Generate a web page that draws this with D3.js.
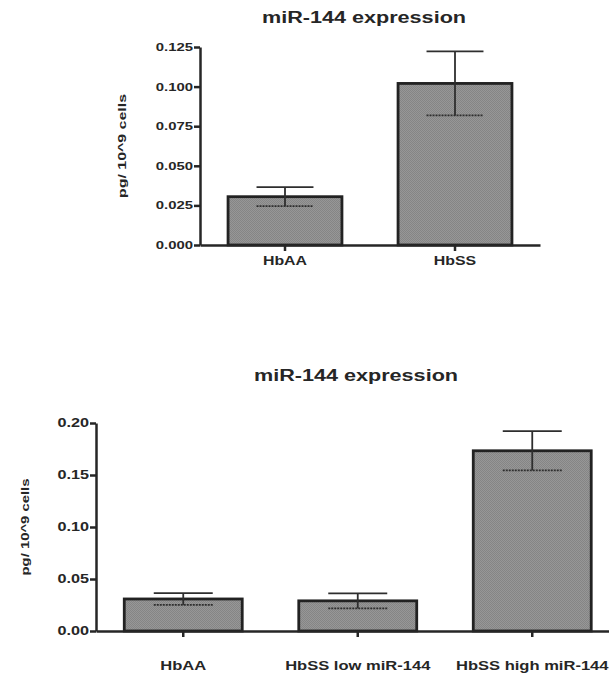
<!DOCTYPE html>
<meta charset="utf-8">
<html>
<style>
	body { margin: 0; background: #fff; }
	text { font-family: Arial, "Liberation Sans", Helvetica, sans-serif; font-weight: bold; fill: #262626; }
	.axis path, .axis line { stroke: #262626; stroke-width: 2.5px; }
	.axis text { fill: #262626; }
	.bar { stroke: #222; stroke-width: 2.8px; }
	.err { stroke: #2e2e2e; stroke-width: 1.8px; fill: none; }
</style>
<body>
	<script src="https://d3js.org/d3.v7.min.js"></script>
	<script type="text/javascript">
		// top panel data
		var topCats = ["HbAA", "HbSS"];
		var topMeans = [0.0305, 0.1020];
		var topSem = [0.0060, 0.0202];
		var topTicks = [0, 0.025, 0.05, 0.075, 0.1, 0.125];

		// bottom panel data
		var botCats = ["HbAA", "HbSS low miR-144", "HbSS high miR-144"];
		var botMeans = [0.0308, 0.0290, 0.1733];
		var botSem = [0.0057, 0.0072, 0.0188];
		var botTicks = [0, 0.05, 0.1, 0.15, 0.2];

		var title = "miR-144 expression";
		var yLabel = "pg/ 10^9 cells";

		var width = 609, height = 675;
		var stretch = 1.35; // glyphs in the picture are wider than Arial

		var svg = d3.select("body").append("svg")
			.attr("width", width)
			.attr("height", height);

		// fine dotted fill like the printed bars
		var pat = svg.append("defs").append("pattern")
			.attr("id", "checker")
			.attr("width", 2).attr("height", 2)
			.attr("patternUnits", "userSpaceOnUse");
		pat.append("rect").attr("width", 2).attr("height", 2).attr("fill", "#979797");
		pat.append("rect").attr("width", 1).attr("height", 1).attr("fill", "#858585");
		pat.append("rect").attr("x", 1).attr("y", 1).attr("width", 1).attr("height", 1).attr("fill", "#858585");

		function widen(sel, k) {
			sel.each(function () {
				var len = this.getComputedTextLength();
				d3.select(this).attr("textLength", len * k).attr("lengthAdjust", "spacingAndGlyphs");
			});
		}

		function panel(opt) {
			var g = svg.append("g");

			var x = d3.scaleBand()
				.domain(opt.cats)
				.range([opt.left, opt.right])
				.paddingInner(opt.pad)
				.paddingOuter(opt.pad / 2);

			var y = d3.scaleLinear()
				.domain([0, opt.max])
				.range([opt.bottom, opt.top]);

			// bars
			g.selectAll(".bar")
				.data(opt.means)
				.enter().append("rect")
				.attr("class", "bar")
				.attr("x", function (d, i) { return x(opt.cats[i]); })
				.attr("width", x.bandwidth())
				.attr("y", function (d) { return y(d); })
				.attr("height", function (d) { return y(0) - y(d); })
				.attr("fill", "url(#checker)");

			// error bars
			var capW = x.bandwidth() * 0.5;
			opt.means.forEach(function (m, i) {
				var cx = x(opt.cats[i]) + x.bandwidth() / 2;
				var hi = y(m + opt.sem[i]), lo = y(m - opt.sem[i]);
				g.append("line").attr("class", "err")
					.attr("x1", cx).attr("x2", cx).attr("y1", hi).attr("y2", lo);
				g.append("line").attr("class", "err")
					.attr("x1", cx - capW / 2).attr("x2", cx + capW / 2).attr("y1", hi).attr("y2", hi);
				g.append("line").attr("class", "err")
					.attr("stroke-dasharray", "2,1")
					.attr("x1", cx - capW / 2).attr("x2", cx + capW / 2).attr("y1", lo).attr("y2", lo);
			});

			// y axis
			var ya = g.append("g")
				.attr("class", "axis")
				.attr("transform", "translate(" + opt.left + ",0)")
				.call(d3.axisLeft(y).tickValues(opt.ticks).tickFormat(d3.format(opt.fmt)).tickSize(6).tickSizeOuter(0));
			ya.selectAll("text")
				.attr("x", -7)
				.attr("fill", null)
				.style("font-size", opt.tickSize + "px");
			widen(ya.selectAll("text"), stretch);

			// x axis
			g.append("g")
				.attr("class", "axis")
				.attr("transform", "translate(0," + opt.bottom + ")")
				.call(d3.axisBottom(x).tickSize(6).tickSizeOuter(0).tickFormat(""));

			g.selectAll(".cat")
				.data(opt.cats)
				.enter().append("text")
				.attr("class", "cat")
				.attr("x", function (d) { return x(d) + x.bandwidth() / 2; })
				.attr("y", opt.catY)
				.attr("text-anchor", "middle")
				.style("font-size", opt.catSize + "px")
				.text(function (d) { return d; });
			widen(g.selectAll(".cat"), stretch * 0.98);

			// title
			var t = g.append("text")
				.attr("x", opt.titleX)
				.attr("y", opt.titleY)
				.attr("text-anchor", "middle")
				.style("font-size", "16px")
				.text(title);
			widen(t, stretch);

			// y label
			var yl = g.append("text")
				.attr("transform", "translate(" + opt.ylabX + "," + (opt.top + opt.bottom) / 2 + ") rotate(-90)")
				.attr("text-anchor", "middle")
				.style("font-size", "11px")
				.text(yLabel);
			widen(yl, opt.ylabK);
		}

		panel({
			cats: topCats, means: topMeans, sem: topSem, ticks: topTicks, max: 0.125, fmt: ".3f",
			left: 200, right: 540, top: 47, bottom: 245, pad: 0.33,
			tickSize: 11, catSize: 12, catY: 265, titleX: 364, titleY: 23, ylabX: 126, ylabK: 1.45
		});

		panel({
			cats: botCats, means: botMeans, sem: botSem, ticks: botTicks, max: 0.2, fmt: ".2f",
			left: 96, right: 619.5, top: 423, bottom: 631, pad: 0.324,
			tickSize: 12, catSize: 12.5, catY: 670, titleX: 356, titleY: 381, ylabX: 29, ylabK: 1.35
		});
	</script>
</body>
</html>
